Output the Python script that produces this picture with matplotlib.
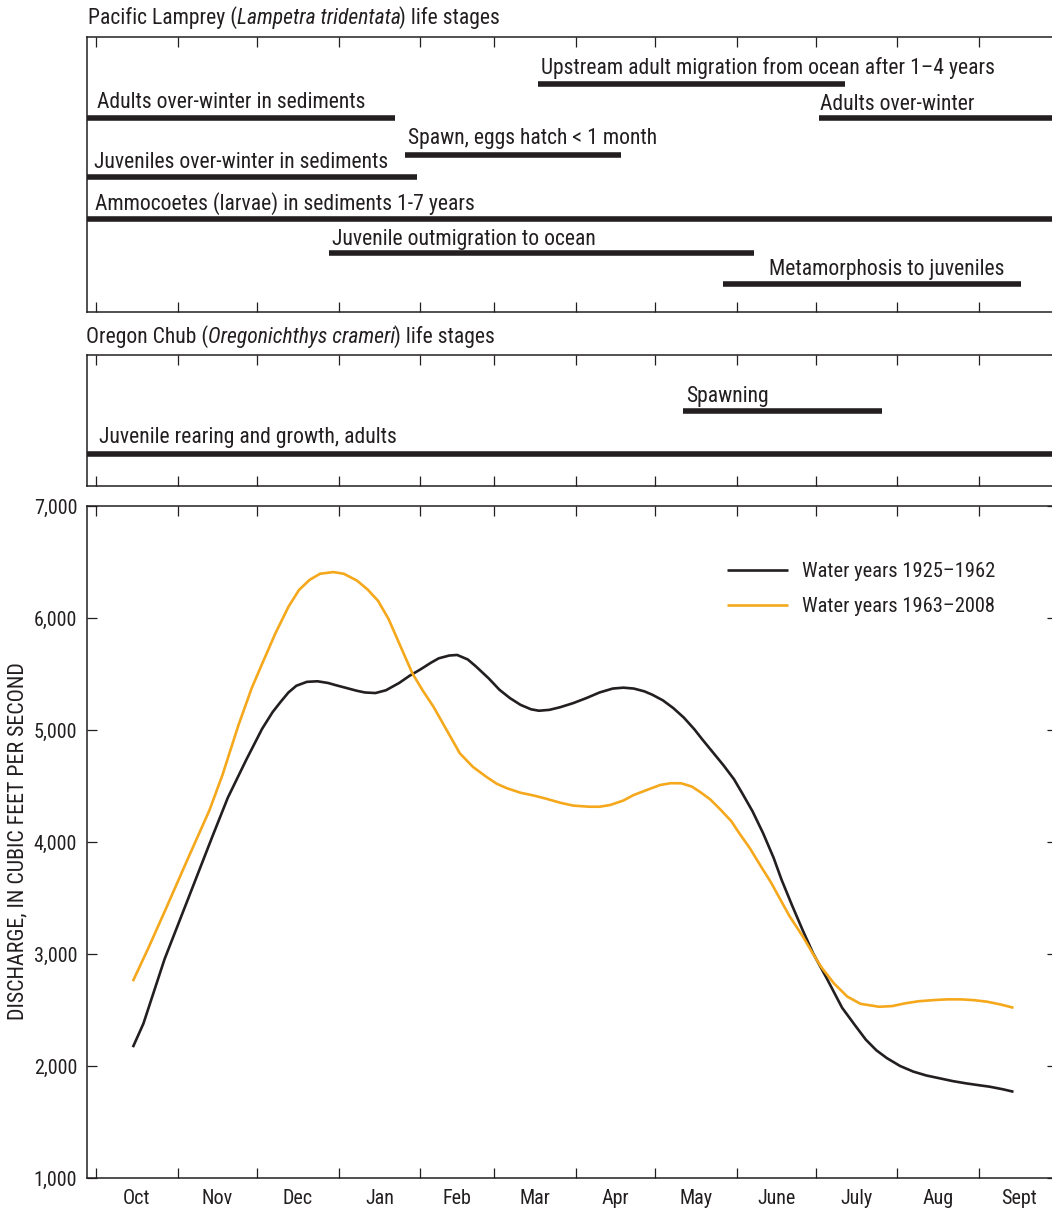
import matplotlib
matplotlib.use('Agg')
import matplotlib.pyplot as plt
from matplotlib import font_manager
from matplotlib.ticker import StrMethodFormatter, FixedLocator

# ---------------- data ----------------
month_labels = ['Oct', 'Nov', 'Dec', 'Jan', 'Feb', 'Mar', 'Apr', 'May',
                'June', 'July', 'Aug', 'Sept']
month_days = [31, 30, 31, 31, 28, 31, 30, 31, 30, 31, 31, 30]

lamprey_stages = ['Upstream adult migration from ocean after 1\u20134 years',
                  'Adults over-winter in sediments',
                  'Adults over-winter',
                  'Spawn, eggs hatch < 1 month',
                  'Juveniles over-winter in sediments',
                  'Ammocoetes (larvae) in sediments 1-7 years',
                  'Juvenile outmigration to ocean',
                  'Metamorphosis to juveniles']
lamprey_start = [167.6, -4, 274.3, 117.2, -4, -4, 88.4, 237.9]
lamprey_end = [284.0, 113.6, 370, 199.1, 121.7, 370, 249.6, 351.0]

chub_stages = ['Spawning', 'Juvenile rearing and growth, adults']
chub_start = [222.5, -4]
chub_end = [298.3, 370]

# day of water year (0 = Oct 1) and mean discharge, cubic feet per second
days_1925 = [14, 18, 26, 35, 44, 50, 57, 63, 67, 70, 73, 76, 80, 84, 88, 91,
             95, 99, 102, 106, 110, 115, 119, 123, 127, 130, 134, 137, 141,
             144, 149, 153, 157, 161, 165, 168, 172, 176, 181, 186, 191, 196,
             200, 204, 208, 211, 215, 219, 223, 227, 230, 234, 238, 242, 245,
             249, 253, 257, 260, 264, 268, 272, 277, 283, 288, 292, 296, 300,
             305, 310, 315, 320, 325, 330, 335, 339, 344, 348]
q_1925 = [2168, 2379, 2953, 3496, 4040, 4395, 4734, 5010, 5160, 5250, 5335,
          5395, 5430, 5435, 5420, 5400, 5375, 5350, 5335, 5330, 5355, 5420,
          5485, 5540, 5600, 5640, 5665, 5670, 5630, 5570, 5460, 5360, 5285,
          5225, 5185, 5172, 5180, 5203, 5240, 5285, 5335, 5370, 5378, 5370,
          5345, 5315, 5265, 5195, 5110, 5005, 4915, 4800, 4685, 4560, 4440,
          4275, 4080, 3860, 3665, 3435, 3215, 3006, 2790, 2520, 2360, 2235,
          2140, 2070, 2000, 1950, 1915, 1890, 1865, 1845, 1828, 1815, 1792,
          1770]

days_1963 = [14, 20, 26, 35, 43, 48, 54, 59, 63, 68, 73, 77, 81, 85, 90, 94,
             99, 103, 107, 111, 115, 120, 124, 128, 133, 138, 143, 148, 152,
             156, 161, 166, 171, 176, 181, 187, 191, 195, 200, 204, 209, 214,
             218, 222, 226, 229, 233, 237, 241, 244, 248, 252, 256, 259, 263,
             268, 272, 275, 280, 285, 290, 297, 302, 307, 312, 318, 323, 328,
             333, 338, 343, 348]
q_1963 = [2757, 3060, 3376, 3859, 4281, 4600, 5040, 5370, 5590, 5860, 6100,
          6250, 6340, 6395, 6410, 6395, 6334, 6255, 6153, 5990, 5774, 5506,
          5350, 5208, 5000, 4792, 4670, 4583, 4520, 4479, 4440, 4415, 4385,
          4351, 4325, 4315, 4315, 4330, 4370, 4420, 4465, 4509, 4525, 4524,
          4495, 4449, 4380, 4286, 4185, 4078, 3945, 3790, 3640, 3511, 3340,
          3160, 3000, 2886, 2735, 2619, 2555, 2529, 2535, 2560, 2578, 2589,
          2595, 2595, 2588, 2574, 2550, 2520]

series_labels = ['Water years 1925\u20131962', 'Water years 1963\u20132008']
ytick_values = [1000, 2000, 3000, 4000, 5000, 6000, 7000]

# ---------------- style / layout ----------------
names = {f.name for f in font_manager.fontManager.ttflist}
FONT = 'DejaVu Sans'
for cand in ['Liberation Sans Narrow', 'Roboto Condensed', 'Roboto', 'Liberation Sans']:
    if cand in names:
        FONT = cand
        break
plt.rcParams['font.family'] = [FONT, 'DejaVu Sans']

INK = '#231f20'
ORANGE = '#f5a81c'
W, H = 1052, 1211
DPI = 100

# row positions (pixel rows inside each panel, measured from figure top)
lamprey_bar_y = [83.7, 117.5, 117.7, 155, 177, 219, 253, 284]
lamprey_txt_y = [74, 107.5, 110.5, 144, 168, 210, 245, 275]
lamprey_txt_x = [168.8, 0.4, 274.6, 118.3, -0.8, -0.4, 89.5, 255.2]
chub_bar_y = [411, 454]
chub_txt_y = [401.5, 442.5]
chub_txt_x = [223.7, 1.1]

X0_PX, X1_PX = 87, 1057
XLIM = (-3.4, 364.5)

fig = plt.figure(figsize=(W / DPI, H / DPI), dpi=DPI)


def axes_px(top, bottom):
    return fig.add_axes([X0_PX / W, 1 - bottom / H, (X1_PX - X0_PX) / W,
                         (bottom - top) / H])


month_edges = [sum(month_days[:i]) for i in range(12)]
month_mids = [sum(month_days[:i]) + month_days[i] / 2 for i in range(12)]


def style_axes(ax):
    for s in ax.spines.values():
        s.set_linewidth(1.1)
        s.set_color(INK)
    ax.set_xlim(*XLIM)
    ax.xaxis.set_major_locator(FixedLocator(month_edges))
    ax.tick_params(axis='x', which='major', direction='in', top=True,
                   bottom=True, length=7, width=0.9, color=INK,
                   labelbottom=False)


FS = 15.6

# ---- lamprey panel ----
TOP1, BOT1 = 37, 312
ax1 = axes_px(TOP1, BOT1)
style_axes(ax1)
ax1.set_ylim(BOT1, TOP1)
ax1.set_yticks([])
ax1.hlines(lamprey_bar_y, lamprey_start, lamprey_end, colors=INK,
           linewidth=4.0, capstyle='butt')
for lab, tx, ty in zip(lamprey_stages, lamprey_txt_x, lamprey_txt_y):
    ax1.text(tx, ty, lab, fontsize=FS, color=INK, va='baseline', ha='left')

# ---- chub panel ----
TOP2, BOT2 = 355, 486
ax2 = axes_px(TOP2, BOT2)
style_axes(ax2)
ax2.set_ylim(BOT2, TOP2)
ax2.set_yticks([])
ax2.hlines(chub_bar_y, chub_start, chub_end, colors=INK, linewidth=4.0,
           capstyle='butt')
for lab, tx, ty in zip(chub_stages, chub_txt_x, chub_txt_y):
    ax2.text(tx, ty, lab, fontsize=FS, color=INK, va='baseline', ha='left')

# ---- discharge panel ----
TOP3, BOT3 = 506, 1178
ax3 = axes_px(TOP3, BOT3)
style_axes(ax3)
ax3.set_ylim(1000, 7000)
ax3.set_yticks(ytick_values)
ax3.yaxis.set_major_formatter(StrMethodFormatter('{x:,.0f}'))
ax3.tick_params(axis='y', direction='in', left=True, right=True, length=7,
                width=0.9, color=INK, labelsize=14.5, labelcolor=INK, pad=7)
ax3.set_xticks(month_mids, minor=True)
ax3.set_xticklabels(month_labels, minor=True)
ax3.tick_params(axis='x', which='minor', length=0, labelsize=14.5,
                labelcolor=INK, pad=8, bottom=True)
l1, = ax3.plot(days_1925, q_1925, color=INK, lw=1.9, solid_capstyle='butt',
               solid_joinstyle='round')
l2, = ax3.plot(days_1963, q_1963, color=ORANGE, lw=1.9, solid_capstyle='butt',
               solid_joinstyle='round')
ax3.legend([l1, l2], series_labels, loc='upper left',
           bbox_to_anchor=(727 / W, 1 - 562 / H),
           bbox_transform=fig.transFigure, frameon=False, fontsize=14.8,
           handlelength=2.95, handletextpad=0.72, labelspacing=0.78,
           borderpad=0, borderaxespad=0, labelcolor=INK)

fig.text(18 / W, 1 - 841 / H, 'DISCHARGE, IN CUBIC FEET PER SECOND',
         rotation=90, ha='center', va='center', fontsize=15.8, color=INK)


# ---- panel titles with italic species names ----
def mixed_title(x_px, base_px, parts):
    renderer = fig.canvas.get_renderer()
    x = x_px
    for txt, style in parts:
        t = fig.text(x / W, 1 - base_px / H, txt, fontsize=FS, style=style,
                     color=INK, va='baseline', ha='left')
        bb = t.get_window_extent(renderer)
        x += bb.width - (1.5 if style == 'italic' else 0)


mixed_title(88, 24, [('Pacific Lamprey (', 'normal'),
                     ('Lampetra tridentata', 'italic'),
                     (') life stages', 'normal')])
mixed_title(86, 343.3, [('Oregon Chub (', 'normal'),
                        ('Oregonichthys crameri', 'italic'),
                        (') life stages', 'normal')])

fig.savefig('out.png', dpi=DPI)
